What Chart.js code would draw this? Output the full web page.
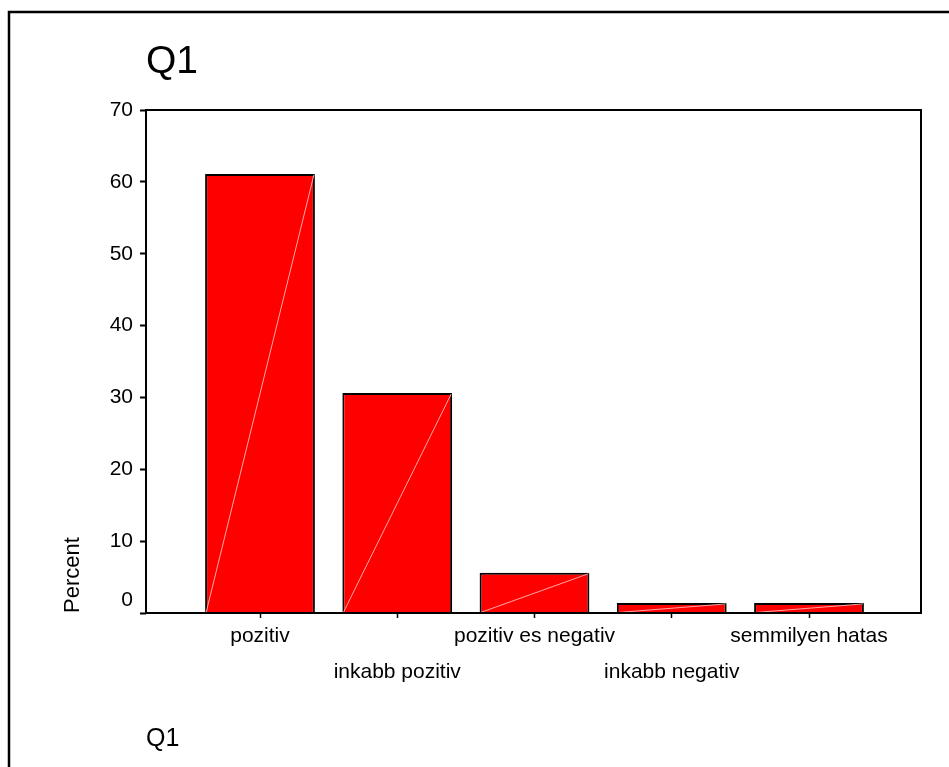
<!DOCTYPE html>
<html lang="hu">
<head>
<meta charset="UTF-8">
<title>Q1</title>
<style>
  html, body { margin: 0; padding: 0; background: #fff; }
  #chartBox { width: 949px; height: 767px; }
</style>
</head>
<body>
<div id="chartBox"><canvas id="q1Chart" width="949" height="767"></canvas></div>

<script src="https://cdn.jsdelivr.net/npm/chart.js"></script>
<script>
// answers to Q1, percent of respondents
const categories = ['pozitiv', 'inkabb pozitiv', 'pozitiv es negativ', 'inkabb negativ', 'semmilyen hatas'];
const percentValues = [61.1, 30.6, 5.6, 1.4, 1.4];
const yTickValues = [0, 10, 20, 30, 40, 50, 60, 70];

const FONT = 'Arial, "Liberation Sans", sans-serif';

// outer box of the page + the plot frame
const framePlugin = {
    id: 'frame',
    beforeDraw(chart) {
        const ctx = chart.ctx;
        ctx.save();
        ctx.strokeStyle = '#000';
        ctx.lineWidth = 2.5;
        ctx.beginPath();
        ctx.moveTo(9, chart.height);
        ctx.lineTo(9, 12);
        ctx.lineTo(chart.width, 12);
        ctx.stroke();
        ctx.restore();
    },
    afterDraw(chart) {
        const { left, top, right, bottom } = chart.chartArea;
        const ctx = chart.ctx;
        ctx.save();
        ctx.strokeStyle = '#000';
        ctx.lineWidth = 2;
        ctx.strokeRect(left, top, right - left, bottom - top);
        ctx.restore();
    }
};

// the thin light diagonal that shows in every bar
const diagonalPlugin = {
    id: 'diagonal',
    afterDatasetsDraw(chart) {
        const ctx = chart.ctx;
        const meta = chart.getDatasetMeta(0);
        ctx.save();
        ctx.strokeStyle = 'rgba(255, 185, 185, 0.9)';
        ctx.lineWidth = 1;
        meta.data.forEach(bar => {
            const { x, y, base, width } = bar.getProps(['x', 'y', 'base', 'width'], true);
            ctx.beginPath();
            ctx.moveTo(x - width / 2 + 1, base);
            ctx.lineTo(x + width / 2 - 1, y + 1);
            ctx.stroke();
        });
        ctx.restore();
    }
};

const ctx = document.getElementById('q1Chart').getContext('2d');

new Chart(ctx, {
    type: 'bar',
    data: {
        datasets: [{
            label: 'Percent',
            data: categories.map((c, i) => ({ x: i, y: percentValues[i] })),
            backgroundColor: '#ff0000',
            borderColor: '#000',
            borderWidth: 2,
            barPercentage: 0.8,
            categoryPercentage: 1
        }]
    },
    options: {
        responsive: false,
        animation: false,
        layout: { padding: { left: 0, top: 0, right: 28, bottom: 0 } },
        plugins: {
            legend: { display: false },
            tooltip: { enabled: false },
            title: {
                display: true,
                text: 'Q1',
                align: 'start',
                fullSize: false,
                color: '#000',
                font: { family: FONT, size: 39, weight: 'normal' },
                padding: { top: 38.6, bottom: 24.6 }
            }
        },
        scales: {
            x: {
                type: 'linear',
                offset: false,
                min: -0.8306,
                max: 4.816,
                afterBuildTicks: scale => {
                    scale.ticks = categories.map((c, i) => ({ value: i }));
                },
                afterFit: scale => { scale.height = 154; },
                border: { display: false },
                grid: {
                    display: true,
                    offset: false,
                    drawOnChartArea: false,
                    drawTicks: true,
                    tickLength: 5,
                    tickColor: '#000',
                    tickWidth: 1.5
                },
                ticks: {
                    autoSkip: false,
                    maxRotation: 0,
                    padding: 0,
                    color: '#000',
                    font: { family: FONT, size: 21, lineHeight: 36 / 21 },
                    callback: value => {
                        const label = categories[value];
                        return value % 2 === 1 ? ['', label] : label;
                    }
                },
                title: {
                    display: true,
                    text: 'Q1',
                    align: 'start',
                    color: '#000',
                    font: { family: FONT, size: 25 },
                    padding: { top: 0, bottom: 12.5 }
                }
            },
            y: {
                min: 0,
                max: 70,
                afterBuildTicks: scale => {
                    scale.ticks = yTickValues.map(v => ({ value: v }));
                },
                afterFit: scale => { scale.width = 146; },
                border: { display: false },
                grid: {
                    display: true,
                    drawOnChartArea: false,
                    drawTicks: true,
                    tickLength: 6,
                    tickColor: '#000',
                    tickWidth: 2
                },
                ticks: {
                    padding: 7,
                    color: '#000',
                    font: { family: FONT, size: 21 },
                    // the zero label sits a little above its tick in the original
                    callback: value => value === 0 ? ['0', ''] : String(value)
                },
                title: {
                    display: true,
                    text: 'Percent',
                    align: 'start',
                    color: '#000',
                    font: { family: FONT, size: 22 },
                    padding: { top: 60, bottom: 0 }
                }
            }
        }
    },
    plugins: [framePlugin, diagonalPlugin]
});
</script>
</body>
</html>
